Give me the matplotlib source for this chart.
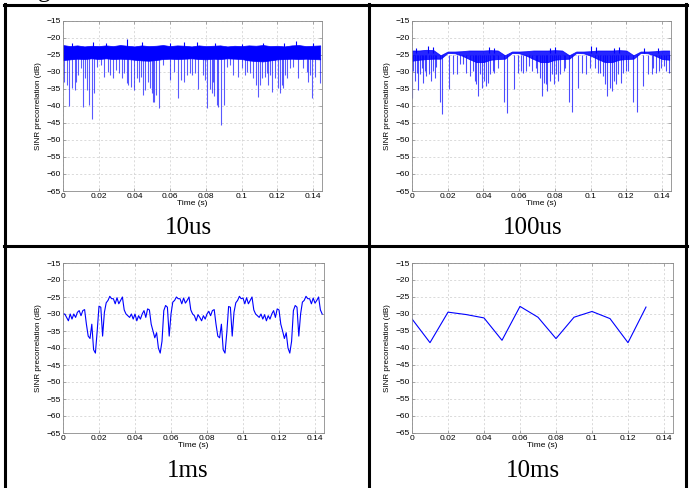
import numpy as np
import matplotlib.pyplot as plt
from matplotlib.lines import Line2D

W, H = 690, 488

# ---- data (time in ms, SINR in dB) ----
# 10 ms sampling
t_10ms = [0, 10, 20, 30, 40, 50, 60, 70, 80, 90, 100, 110, 120, 130]
sinr_10ms = [-31.5, -38.5, -29.5, -30.2, -31.2, -37.8, -27.8, -31.0,
             -37.3, -31.0, -29.3, -31.4, -38.5, -28.0]

# 1 ms sampling (0..144 ms)
sinr_1ms = [
    -30.0, -30.0, -31.0, -32.0, -30.0, -31.5, -30.0, -31.0, -29.5, -29.0,
    -30.5, -29.0, -28.7, -33.0, -36.5, -37.2, -33.0, -40.5, -41.5, -35.0,
    -27.7, -28.0, -36.5, -29.5, -26.7, -26.0, -24.8, -25.5, -25.5, -27.0,
    -25.2, -27.0, -26.0, -25.0, -28.8, -30.0,
    -30.5, -31.0, -30.0, -31.5, -30.0, -32.0, -30.5, -31.5, -30.0, -29.0,
    -31.0, -28.5, -28.8, -33.0, -35.0, -37.0, -35.5, -40.0, -41.5, -38.0,
    -29.0, -27.5, -28.0, -36.5, -30.0, -26.5, -26.0, -25.0, -25.5, -25.5,
    -27.0, -25.3, -26.8, -26.0, -25.0, -28.8,
    -30.0, -30.5, -32.0, -30.2, -31.0, -32.0, -30.5, -31.5, -30.0, -29.2,
    -30.5, -29.0, -28.7, -33.0, -36.5, -37.0, -33.0, -40.5, -41.5, -35.5,
    -27.8, -28.0, -36.5, -29.5, -26.7, -26.0, -24.8, -25.5, -25.3, -27.0,
    -25.2, -27.0, -26.0, -25.0, -28.8, -30.0,
    -30.5, -31.0, -30.0, -31.5, -30.2, -32.0, -30.5, -31.5, -30.0, -29.0,
    -31.0, -28.5, -28.8, -33.0, -35.0, -37.2, -35.5, -40.0, -41.5, -38.0,
    -29.0, -27.5, -28.0, -36.5, -30.0, -26.5, -26.0, -24.8, -25.5, -25.5,
    -27.0, -25.3, -26.8, -26.0, -25.0, -28.8,
    -30.0,
]

# 10 us sampling: dense band (envelope every 4 ms) + visible spikes
t_env = list(range(0, 145, 4))
up_10us = [-22.2, -22.5, -22.3, -22.6, -22.4, -22.5, -22.3, -22.5, -22.2, -22.4,
           -22.6, -22.3, -22.5, -22.4, -22.2, -22.5, -22.3, -22.4, -22.6, -22.3,
           -22.5, -22.4, -22.3, -22.6, -22.4, -22.5, -22.3, -22.4, -22.2, -22.5,
           -22.4, -22.6, -22.3, -22.2, -22.5, -22.4, -22.3]
lo_10us = [-26.6, -26.4, -26.2, -26.3, -26.1, -26.3, -26.1, -26.3, -26.2, -26.3,
           -26.5, -26.7, -26.8, -26.6, -26.3, -26.2, -26.3, -26.2, -26.1, -26.3,
           -26.4, -26.2, -26.3, -26.1, -26.2, -26.3, -26.7, -26.9, -27.0, -26.7,
           -26.4, -26.3, -26.2, -26.3, -26.2, -26.3, -26.4]
spk_t_10us = [0.3, 2.2, 3.4, 5.2, 6.7, 7.5, 8.6, 9.9, 11.4, 12.3, 13.6, 14.7, 16.0,
              17.5, 18.8, 21.1, 23.1, 25.4, 26.3, 28.2, 29.7, 31.3, 32.8, 34.3,
              35.6, 36.6, 38.1, 39.6, 41.2, 42.5, 43.7, 44.6, 45.9, 47.4, 48.7,
              49.6, 50.2, 50.9, 52.1, 53.7, 56.2, 59.9, 62.3, 64.6, 66.0, 67.5,
              69.2, 71.1, 72.4, 73.9, 75.8, 78.6, 79.5, 80.8, 82.3, 83.2, 84.2,
              84.7, 86.0, 87.0, 88.5, 90.0, 91.6, 93.5, 95.4, 97.8, 100.4, 101.9,
              102.8, 104.7, 106.6, 108.1, 109.0, 110.3, 111.6, 113.1, 114.0, 115.0,
              115.9, 117.2, 118.7, 120.2, 121.5, 122.4, 123.3, 124.3, 125.2, 127.1,
              128.9, 131.8, 134.5, 136.4, 137.4, 138.3, 139.6, 141.1, 143.9]
spk_v_10us = [-32.9, -33.9, -40.0, -34.9, -35.4, -32.9, -31.0, -29.0, -40.3, -32.0,
              -35.4, -39.8, -44.0, -36.4, -28.5, -28.0, -31.5, -30.0, -31.0, -32.0,
              -29.5, -30.5, -32.0, -30.5, -33.4, -34.0, -34.5, -35.4, -32.0, -33.0,
              -31.5, -36.8, -35.4, -33.0, -34.8, -36.4, -38.8, -38.8, -36.8, -40.8,
              -28.0, -32.5, -30.0, -37.8, -32.5, -33.0, -31.0, -30.5, -31.0, -30.5,
              -35.0, -31.0, -32.5, -40.6, -35.0, -36.4, -33.0, -37.0, -39.8, -40.3,
              -45.6, -39.8, -28.5, -28.0, -31.0, -31.5, -29.0, -31.0, -30.0, -30.5,
              -32.0, -34.0, -37.4, -34.0, -32.0, -31.5, -30.5, -34.0, -31.0, -35.9,
              -32.0, -34.9, -36.4, -34.0, -34.9, -31.0, -32.0, -29.0, -28.5, -32.0,
              -29.0, -30.0, -33.0, -31.0, -37.8, -31.5, -33.4]
up_t_10us = [5, 17, 24, 36, 44, 60, 68, 75, 85, 100, 112, 124, 130.5, 140]
up_v_10us = [-21.5, -21.3, -21.6, -20.3, -21.3, -21.5, -21.2, -21.2, -21.5, -21.8,
             -21.5, -21.7, -21.0, -21.5]

# 100 us sampling: envelope every 4 ms + visible spikes
up_100us = [-23.8, -23.8, -23.6, -23.7, -25.2, -24.1, -24.1, -24.0, -23.8, -23.8,
            -23.8, -23.7, -23.8, -25.2, -24.1, -24.1, -24.0, -23.8, -23.8, -23.8,
            -23.7, -23.8, -25.2, -24.1, -24.1, -24.0, -23.8, -23.8, -23.8, -23.7,
            -23.8, -25.2, -24.1, -24.1, -24.0, -23.8, -23.8]
lo_100us = [-26.8, -26.5, -26.3, -26.2, -26.2, -24.5, -24.6, -25.3, -26.3, -27.2,
            -27.2, -26.5, -26.3, -26.2, -24.5, -24.6, -25.3, -26.3, -27.2, -27.2,
            -26.5, -26.3, -26.2, -24.5, -24.6, -25.3, -26.3, -27.2, -27.2, -26.5,
            -26.3, -26.2, -24.5, -24.6, -25.3, -26.3, -26.5]
spk_t_100us = [0.2, 0.7, 1.7, 2.6, 3.2, 4.4, 5.4, 6.3, 7.2, 8.1, 9.4, 10.6, 11.9,
               12.8, 13.7, 15.6, 17.0, 20.7, 22.9, 25.4, 26.7, 28.5, 30.4, 32.2,
               34.1, 35.0, 35.9, 36.8, 37.8, 39.1, 40.2, 41.5, 42.4, 43.9, 45.2,
               46.1, 47.9, 51.7, 53.1, 56.9, 59.1, 60.9, 62.4, 63.7, 65.6, 67.4,
               69.3, 70.2, 71.7, 73.0, 73.9, 74.8, 75.7, 77.2, 78.5, 79.4, 80.4,
               81.7, 83.1, 85.0, 85.9, 87.8, 89.3, 93.0, 95.2, 97.6, 99.8, 102.2,
               104.1, 105.4, 107.2, 108.1, 109.4, 110.6, 111.9, 113.1, 114.3, 115.6,
               116.9, 118.3, 119.8, 121.1, 123.9, 125.7, 129.1, 132.2, 134.1, 135.0,
               136.5, 138.3, 139.6, 141.1, 142.4, 143.7]
spk_v_100us = [-37.6, -29.8, -32.7, -30.3, -35.5, -30.8, -28.8, -33.2, -29.8, -31.3,
               -30.8, -32.7, -29.8, -31.8, -28.6, -38.8, -42.3, -35.0, -30.6, -30.8,
               -27.8, -27.8, -30.3, -31.3, -29.8, -32.7, -33.7, -37.2, -30.8, -34.7,
               -32.7, -34.2, -33.2, -30.8, -29.8, -30.3, -28.8, -38.8, -42.1, -35.2,
               -30.3, -29.8, -30.3, -29.8, -28.3, -29.8, -28.8, -30.3, -31.8, -37.2,
               -33.2, -33.7, -35.7, -32.7, -30.8, -33.7, -30.8, -32.7, -30.8, -29.8,
               -28.8, -38.8, -41.8, -34.7, -30.3, -30.8, -28.8, -28.8, -30.3, -30.3,
               -31.3, -33.7, -37.0, -34.7, -35.7, -32.7, -33.7, -30.8, -33.2, -30.3,
               -29.8, -29.8, -38.8, -41.8, -34.2, -30.8, -30.8, -28.8, -30.3, -29.8,
               -28.8, -28.3, -29.8, -30.3]
up_t_100us = [2, 9, 12, 43, 46, 77, 80, 100, 103, 113, 116, 130, 138]
up_v_100us = [-23.0, -22.5, -22.8, -22.8, -23.0, -23.0, -22.8, -22.6, -22.7, -23.0,
              -22.8, -23.0, -23.0]

captions = ["10us", "100us", "1ms", "10ms"]

# ---- figure ----
fig = plt.figure(figsize=(W / 100, H / 100), dpi=100)
plt.rcParams['font.family'] = ['Liberation Sans', 'DejaVu Sans']


def px_axes(left, top, right, bottom):
    return fig.add_axes([left / W, 1 - bottom / H, (right - left) / W, (bottom - top) / H])


def style(ax):
    ax.set_xlim(0, 0.145)
    ax.set_ylim(-65, -15)
    ax.set_xticks(np.arange(0, 0.141, 0.02))
    ax.set_xticklabels(["0", "0.02", "0.04", "0.06", "0.08", "0.1", "0.12", "0.14"])
    ax.set_yticks(np.arange(-65, -14, 5))
    ax.grid(True, color='#cccccc', linestyle=(0, (3, 3)), linewidth=0.5)
    ax.set_axisbelow(True)
    for s in ax.spines.values():
        s.set_color('#8a8a8a')
        s.set_linewidth(0.6)
    ax.tick_params(direction='in', length=2, width=0.5, color='#8a8a8a',
                   labelsize=6, pad=1.5, top=True, right=True)
    ax.set_xlabel("Time (s)", fontsize=6, labelpad=0)
    ax.set_ylabel("SINR precorrelation (dB)", fontsize=5.8, labelpad=3)


ms = lambda v: np.asarray(v) / 1000.0
blue = '#0000ff'

# 10us
ax1 = px_axes(63, 20.5, 322, 191)
style(ax1)
ax1.fill_between(ms(t_env), up_10us, lo_10us, color=blue, lw=0.5)
ax1.vlines(ms(spk_t_10us), spk_v_10us, -26.0, colors=blue, lw=0.8, alpha=0.65)
ax1.vlines(ms(up_t_10us), -23.0, up_v_10us, colors=blue, lw=0.8)

# 100us
ax2 = px_axes(412, 20.5, 671, 191)
style(ax2)
ax2.fill_between(ms(t_env), up_100us, lo_100us, color=blue, lw=0.6, alpha=0.85)
ax2.vlines(ms(spk_t_100us), spk_v_100us, -25.0, colors=blue, lw=0.8, alpha=0.7)
ax2.vlines(ms(up_t_100us), -24.5, up_v_100us, colors=blue, lw=0.8)

# 1ms
ax3 = px_axes(63, 263, 324, 433)
style(ax3)
ax3.plot(ms(np.arange(len(sinr_1ms))), sinr_1ms, color=blue, lw=0.8)

# 10ms
ax4 = px_axes(412, 263, 673, 432.5)
style(ax4)
ax4.plot(ms(t_10ms), sinr_10ms, color=blue, lw=0.8)

# captions
for (cx, cy), txt in zip([(188, 228), (533, 228), (188, 471), (533, 471)], captions):
    fig.text(cx / W, 1 - cy / H, txt, ha='center', va='center', fontsize=18,
             family='Liberation Serif')

# table borders
def hline(y, x0, x1):
    fig.add_artist(Line2D([x0 / W, x1 / W], [1 - y / H, 1 - y / H], color='black', lw=2.2))


def vline(x, y0, y1):
    fig.add_artist(Line2D([x / W, x / W], [1 - y0 / H, 1 - y1 / H], color='black', lw=2.2))


hline(5, 4, 687)
hline(246, 4, 687)
vline(5, 4, 488)
vline(369, 4, 488)
vline(686, 4, 488)

# caption above the table, cut off by the top edge as in the source image
fig.text(17 / W, 1 + 3 / H, "Fig", fontsize=18, family='Liberation Serif', va='baseline')

fig.savefig("out.png", dpi=100)
